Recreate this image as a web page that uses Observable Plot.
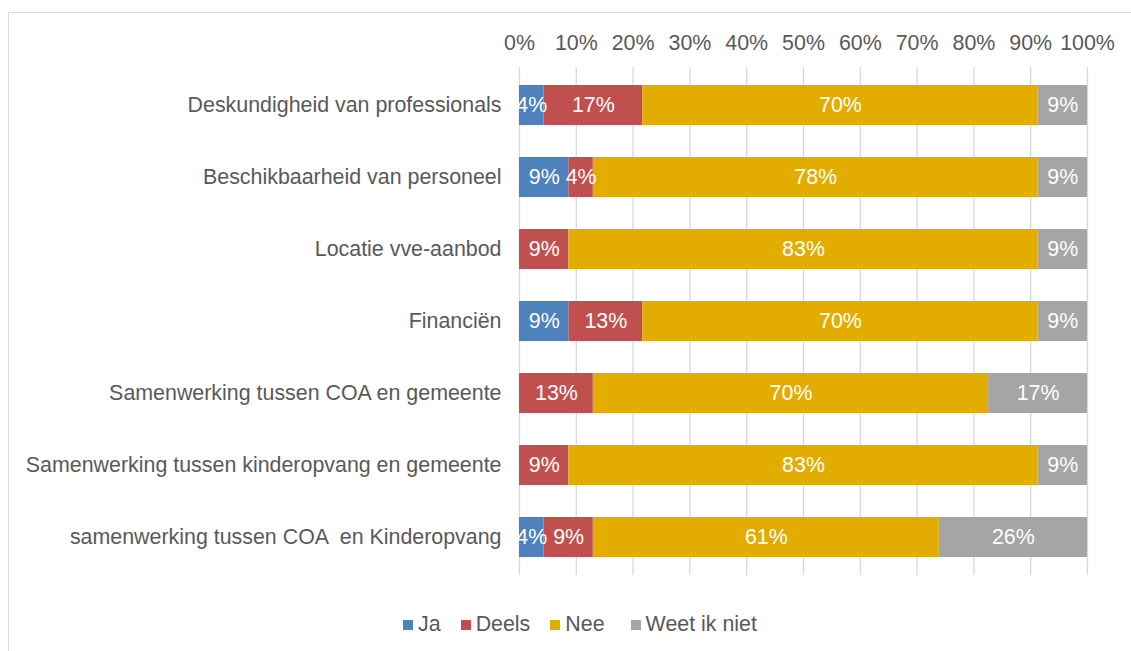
<!DOCTYPE html>
<html>
<head>
<meta charset="utf-8">
<script src="https://cdn.jsdelivr.net/npm/d3@7"></script>
<script src="https://cdn.jsdelivr.net/npm/@observablehq/plot@0.6"></script>
<style>
  html, body { margin: 0; padding: 0; background: white; }
  body { width: 1131px; height: 651px; overflow: hidden; position: relative; font-family: "Liberation Sans", Arial, sans-serif; }
  #frame { position: absolute; left: 8px; top: 12px; width: 1122px; height: 650px; border-left: 1px solid #d9d9d9; border-top: 1px solid #d9d9d9; }
  #legend { display: flex; justify-content: center; align-items: center; gap: 20px; padding-left: 20px; margin-top: 9px; font-size: 21.4px; color: #595959; }
  #legend .item { display: flex; align-items: center; gap: 5px; }
  #legend .sw { width: 10px; height: 10px; display: inline-block; }
</style>
</head>
<body>
<div id="frame"><div id="chart"></div><div id="legend"></div></div>
<script>
const categories = [
  "Deskundigheid van professionals",
  "Beschikbaarheid van personeel",
  "Locatie vve-aanbod",
  "Financiën",
  "Samenwerking tussen COA en gemeente",
  "Samenwerking tussen kinderopvang en gemeente",
  "samenwerking tussen COA  en Kinderopvang"
];
const series = ["Ja", "Deels", "Nee", "Weet ik niet"];
const colors = ["#4f81bd", "#c0504d", "#e2ac00", "#a5a5a5"];
const ja    = [4.3, 8.7, 0, 8.7, 0, 0, 4.3];
const deels = [17.4, 4.3, 8.7, 13.0, 13.0, 8.7, 8.7];
const nee   = [69.6, 78.3, 82.6, 69.6, 69.6, 82.6, 60.9];
const weet  = [8.7, 8.7, 8.7, 8.7, 17.4, 8.7, 26.1];
const xTicks = [0, 10, 20, 30, 40, 50, 60, 70, 80, 90, 100];

const valuesBySeries = [ja, deels, nee, weet];
const data = [];
categories.forEach((c, i) => {
  series.forEach((s, j) => {
    const v = valuesBySeries[j][i];
    if (v > 0) data.push({cat: c, resp: s, value: v});
  });
});

const font = "'Liberation Sans', Arial, sans-serif";
const fs = 21.4;
const stackOpts = {x: "value", y: "cat", z: "resp", order: series};

const chart = Plot.plot({
  width: 1122,
  height: 590,
  marginLeft: 510,
  marginRight: 44,
  marginTop: 54,
  marginBottom: 28,
  style: {fontFamily: font, fontSize: fs + "px", color: "#595959", background: "white", overflow: "visible"},
  x: {domain: [0, 100], ticks: xTicks},
  y: {domain: categories, paddingInner: 0.45, paddingOuter: 0.21},
  color: {domain: series, range: colors},
  marks: [
    Plot.ruleX(xTicks, {stroke: "#d9d9d9", strokeWidth: 1.3}),
    Plot.barX(data, Plot.stackX({...stackOpts, fill: "resp"})),
    Plot.text(data, Plot.stackX({...stackOpts, text: d => Math.round(d.value) + "%", fill: "white", fontSize: fs})),
    Plot.axisX({anchor: "top", ticks: xTicks, tickSize: 0, tickPadding: 18, tickFormat: d => d + "%", fill: "#595959", fontSize: fs, label: null}),
    Plot.axisY({tickSize: 0, tickPadding: 18, fill: "#595959", fontSize: fs, label: null})
  ]
});
document.getElementById("chart").appendChild(chart);

const legend = document.getElementById("legend");
series.forEach((s, j) => {
  const item = document.createElement("div");
  item.className = "item";
  if (j === 3) item.style.marginLeft = "6px";
  const sw = document.createElement("span");
  sw.className = "sw";
  sw.style.background = colors[j];
  const t = document.createElement("span");
  t.textContent = s;
  item.appendChild(sw);
  item.appendChild(t);
  legend.appendChild(item);
});
</script>
</body>
</html>
